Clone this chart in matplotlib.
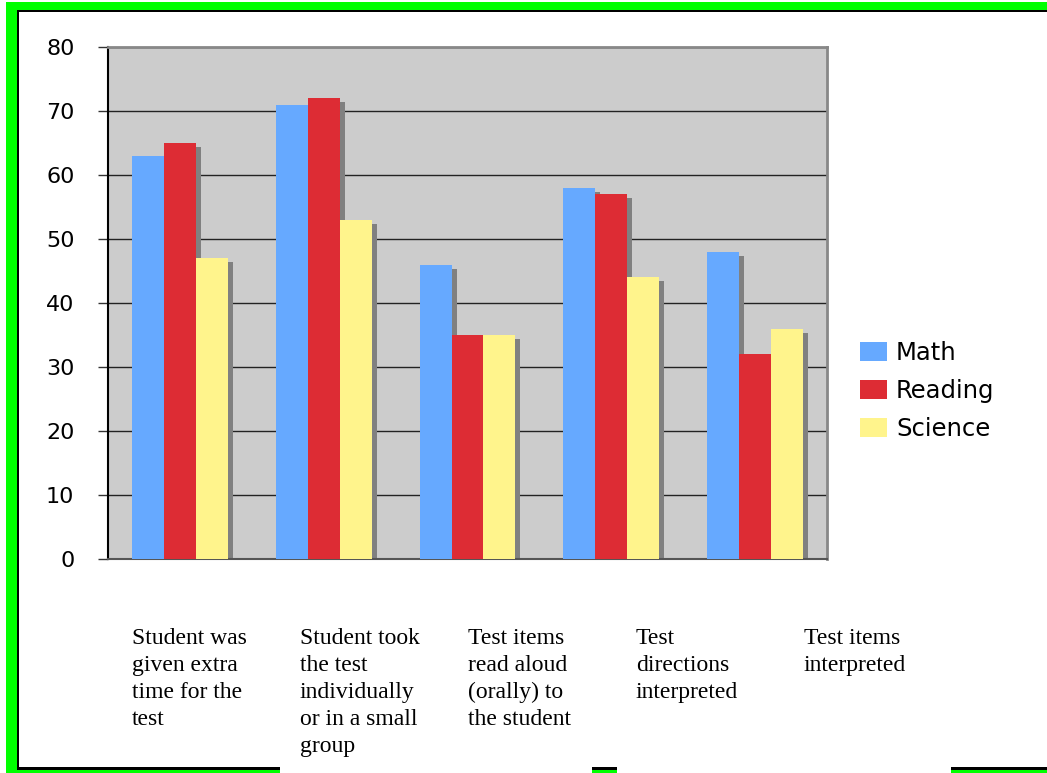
import matplotlib
matplotlib.use("Agg")
import matplotlib.pyplot as plt
from matplotlib.patches import Rectangle, Patch

# data
categories = ["Student was\ngiven extra\ntime for the\ntest",
              "Student took\nthe test\nindividually\nor in a small\ngroup",
              "Test items\nread aloud\n(orally) to\nthe student",
              "Test\ndirections\ninterpreted",
              "Test items\ninterpreted"]
series_names = ["Math", "Reading", "Science"]
math_vals = [63, 71, 46, 58, 48]
reading_vals = [65, 72, 35, 57, 32]
science_vals = [47, 53, 35, 44, 36]
y_ticks = [0, 10, 20, 30, 40, 50, 60, 70, 80]

colors = ["#66A9FF", "#DD2C34", "#FFF48C"]
W, H = 1047, 773

fig = plt.figure(figsize=(W / 100, H / 100), dpi=100)

def box(x, y, w, h, color, z):
    # pixel box (top-left origin) to figure fraction
    r = Rectangle((x / W, 1 - (y + h) / H), w / W, h / H, transform=fig.transFigure,
                  facecolor=color, edgecolor="none", zorder=z)
    fig.patches.append(r)

# green frame with black inner line
box(6, 2, 1100, 800, "#00FF00", 0)
box(17, 10, 1100, 760, "#000000", 1)
box(19, 12, 1100, 755, "#FFFFFF", 2)

ax = fig.add_axes([108 / W, (H - 559) / H, 719 / W, 512 / H])
ax.set_zorder(3)
ax.set_facecolor("#CCCCCC")

n = len(categories)
bw = 0.2222
sx = 5 / 144          # shadow shift in category units
sy = 4 / 6.4          # shadow drop in value units
groups = [math_vals, reading_vals, science_vals]
for k, vals in enumerate(groups):
    xs = [i + (k - 1) * bw for i in range(n)]
    ax.bar([x + sx for x in xs], [v - sy for v in vals], width=bw,
           color="#808080", zorder=2)
for k, vals in enumerate(groups):
    xs = [i + (k - 1) * bw for i in range(n)]
    ax.bar(xs, vals, width=bw, color=colors[k], zorder=3)

ax.set_xlim(-0.5, n - 0.5)
ax.set_ylim(0, 80)
ax.set_yticks(y_ticks)
ax.set_yticklabels([str(t) for t in y_ticks], fontsize=16, family="DejaVu Sans")
ax.yaxis.grid(True, color="#222222", linewidth=1)
ax.set_axisbelow(True)
ax.set_xticks([])
ax.tick_params(axis="y", direction="out", length=7.2, width=1, color="#333333", pad=17)

for s in ["top", "right"]:
    ax.spines[s].set_color("#888888")
    ax.spines[s].set_linewidth(2)
ax.spines["left"].set_color("#000000")
ax.spines["left"].set_linewidth(1.5)
ax.spines["bottom"].set_color("#555555")
ax.spines["bottom"].set_linewidth(1.5)

# category labels below the plot
for i, lab in enumerate(categories):
    fig.text((132 + 168 * i) / W, 1 - 628 / H, lab, ha="left", va="top",
             fontsize=17, family="Liberation Serif", linespacing=1.37, zorder=5)

# white boxes where labels overlap the frame bottom
box(280, 755, 312, 30, "#FFFFFF", 4)
box(617, 755, 334, 30, "#FFFFFF", 4)

handles = [Patch(facecolor=c, edgecolor="none") for c in colors]
fig.legend(handles, series_names, loc="center left",
           bbox_to_anchor=(860 / W, 1 - 391 / H), frameon=False,
           prop={"family": "DejaVu Sans", "size": 17.5},
           handlelength=1.12, handleheight=0.82, handletextpad=0.36,
           labelspacing=0.57, borderpad=0, borderaxespad=0)

fig.savefig("out.png", dpi=100)
